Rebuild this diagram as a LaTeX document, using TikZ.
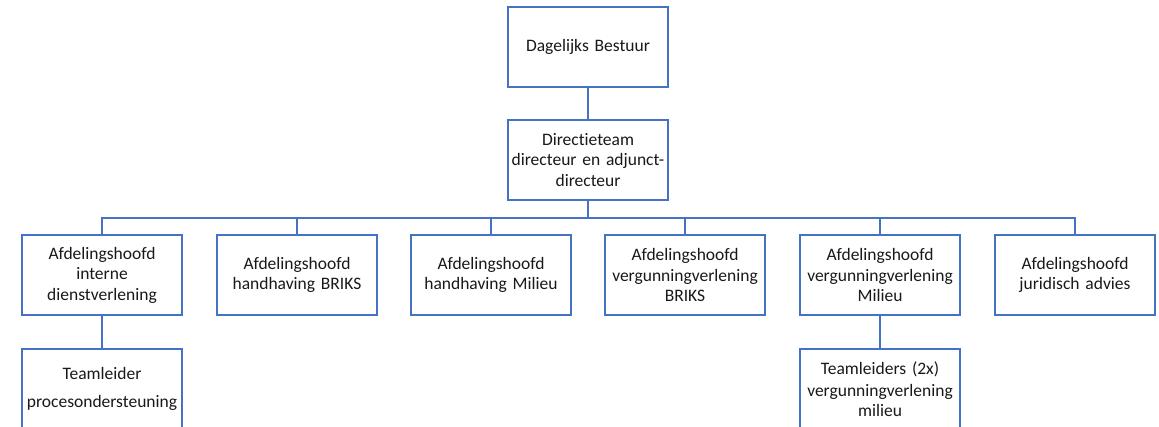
\documentclass[tikz,border=0pt]{standalone}
\usepackage{fontspec}
\setmainfont[Ligatures={NoCommon,NoRare}]{Carlito}
\definecolor{boxline}{RGB}{68,114,196}
\definecolor{txt}{RGB}{25,25,25}
\begin{document}
\begin{tikzpicture}[x=1pt,y=-1pt,
  orgbox/.style={draw=boxline,line width=2pt,fill=white,rectangle,
    minimum width=160pt,minimum height=80pt,inner sep=0pt,
    text width=158pt,align=center,text=txt,
    font=\fontsize{17.5}{20.5}\selectfont},
  conn/.style={draw=boxline,line width=2pt}]
\useasboundingbox (0,0) rectangle (1159,427);
\clip (0,0) rectangle (1159,427);
\fill[white] (0,0) rectangle (1159,427);
\node[orgbox] (db) at (588,47) {Dagelijks Bestuur};
\node[orgbox] (dt) at (588,160) {Directieteam\\directeur en adjunct-\\directeur};
\node[orgbox] (c1) at (102,275) {Afdelingshoofd\\interne\\dienstverlening};
\node[orgbox] (c2) at (297,275) {Afdelingshoofd\\handhaving BRIKS};
\node[orgbox] (c3) at (491,275) {Afdelingshoofd\\handhaving Milieu};
\node[orgbox] (c4) at (685,275) {Afdelingshoofd\\vergunningverlening\\BRIKS};
\node[orgbox] (c5) at (880,275) {Afdelingshoofd\\vergunningverlening\\Milieu};
\node[orgbox] (c6) at (1075,275) {Afdelingshoofd\\juridisch advies};
\node[orgbox] (s1) at (102,389) {Teamleider\\[7pt]procesondersteuning};
\node[orgbox] (s5) at (880,389) {\fontsize{17.5}{22}\selectfont Teamleiders (2x)\\vergunningverlening\\milieu};
\coordinate (bus) at (588,218);
\draw[conn] (db.south) -- (dt.north);
\draw[conn] (dt.south) -- (bus);
\draw[conn] (c1.north) |- (bus) -| (c6.north);
\draw[conn] (c2.north) -- (c2.north |- bus);
\draw[conn] (c3.north) -- (c3.north |- bus);
\draw[conn] (c4.north) -- (c4.north |- bus);
\draw[conn] (c5.north) -- (c5.north |- bus);
\draw[conn] (c1.south) -- (s1.north);
\draw[conn] (c5.south) -- (s5.north);
\end{tikzpicture}
\end{document}
